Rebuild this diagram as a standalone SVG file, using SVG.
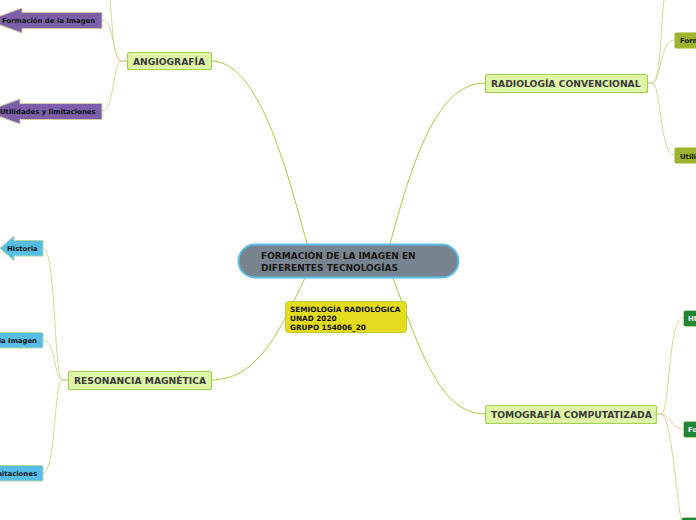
<svg xmlns="http://www.w3.org/2000/svg" width="696" height="520" viewBox="0 0 696 520">
<style>
text{font-family:"DejaVu Sans",Verdana,sans-serif;font-weight:bold}
.main rect{fill:#dff5a8;stroke:#a3cf55;stroke-width:1.2}
.main text{font-size:9.2px;fill:#3a3a3a}
.mc{fill:none;stroke:#a9c94e;stroke-width:1}
.sc{fill:none;stroke:#d8d79c;stroke-width:1}
.pur{fill:#7b5fa8;stroke:#cfcaa0;stroke-width:1}
.blu{fill:#56bde6;stroke:#b2d6a8;stroke-width:1}
.oli{fill:#9db42f;stroke:#cdd690;stroke-width:1}
.dg{fill:#1f8636;stroke:#b8d39a;stroke-width:1}
.sub{font-size:6.9px;fill:#111}
.wt{font-size:6.9px;fill:#fff}
</style>
<g id="connectors">
<path class="mc" d="M211 61 C255 61 282 150 307 244"/>
<path class="mc" d="M390 244 C415 150 440 83 485 83"/>
<path class="mc" d="M305 278 C280 330 258 380 211 380"/>
<path class="mc" d="M393 278 C420 350 440 414 485 414"/>
<path class="sc" d="M127 61 L122 61 C113 61 113 30 110 0"/>
<path class="sc" d="M127 61 L122 61 C112 61 115 20 102 20"/>
<path class="sc" d="M127 61 L122 61 C112 61 115 111 102 111"/>
<path class="sc" d="M68 380 L62 380 C54 380 56 248 43 248"/>
<path class="sc" d="M68 380 L62 380 C54 380 56 340 43 340"/>
<path class="sc" d="M68 380 L62 380 C54 380 56 473 43 473"/>
<path class="sc" d="M647 83 L652 83 C661 83 660 40 674 40"/>
<path class="sc" d="M647 83 L652 83 C661 83 661 20 664 0"/>
<path class="sc" d="M647 83 L652 83 C661 83 660 155 674 155"/>
<path class="sc" d="M656 414 L661 414 C670 414 668 318 683 318"/>
<path class="sc" d="M656 414 L661 414 C670 414 672 429 683 429"/>
<path class="sc" d="M656 414 L661 414 C670 414 675 480 681 520"/>
</g>
<g id="central">
<rect x="238.5" y="244.5" width="220" height="33" rx="16.5" fill="#788490" stroke="#5cbde6" stroke-width="2"/>
<text x="261" y="259" font-size="9px" fill="#161616">FORMACIÓN DE LA IMAGEN EN</text>
<text x="261" y="270.5" font-size="9px" fill="#161616">DIFERENTES TECNOLOGÍAS</text>
</g>
<g id="note">
<rect x="285.5" y="301.5" width="121" height="31" rx="3" fill="#e6dc1e" stroke="#bccb3c"/>
<text x="290" y="311.5" font-size="7.3px" fill="#111">SEMIOLOGÍA RADIOLÓGICA</text>
<text x="290" y="320.5" font-size="7.3px" fill="#111">UNAD 2020</text>
<text x="290" y="329.5" font-size="7.3px" fill="#111">GRUPO 154006_20</text>
</g>
<g id="angiografia" class="main">
<rect x="127.5" y="52.5" width="84" height="17" rx="2"/>
<text x="133" y="64.5">ANGIOGRAFÍA</text>
</g>
<g id="radiologia" class="main">
<rect x="485.5" y="74.5" width="162" height="18" rx="2"/>
<text x="491" y="87">RADIOLOGÍA CONVENCIONAL</text>
</g>
<g id="resonancia" class="main">
<rect x="68.5" y="371.5" width="143" height="18" rx="2"/>
<text x="74" y="384">RESONANCIA MAGNÉTICA</text>
</g>
<g id="tomografia" class="main">
<rect x="485.5" y="405.5" width="171" height="18" rx="2"/>
<text x="491" y="418">TOMOGRAFÍA COMPUTATIZADA</text>
</g>
<g id="ang-formacion">
<polygon class="pur" points="102,12.5 102,28.5 22,28.5 22,33 -12,20.5 22,8 22,12.5"/>
<text class="sub" x="2" y="23">Formación de la Imagen</text>
</g>
<g id="ang-utilidades">
<polygon class="pur" points="102,103.5 102,119.5 20,119.5 20,124 -14,111.5 20,99 20,103.5"/>
<text class="sub" x="0" y="114">Utilidades y limitaciones</text>
</g>
<g id="rm-historia">
<polygon class="blu" points="43,240.5 43,256 14,256 14,260.5 0,248.2 14,236 14,240.5"/>
<text class="sub" x="7" y="251">Historia</text>
</g>
<g id="rm-formacion">
<rect class="blu" x="-10" y="332.5" width="53" height="15.5" rx="1.5"/>
<text class="sub" x="37" y="343" text-anchor="end">Formación de la Imagen</text>
</g>
<g id="rm-utilidades">
<rect class="blu" x="-10" y="465.5" width="53" height="15.5" rx="1.5"/>
<text class="sub" x="37" y="476" text-anchor="end">Utilidades y limitaciones</text>
</g>
<g id="rc-formacion">
<rect class="oli" x="674.5" y="32.5" width="40" height="16" rx="2"/>
<text class="sub" x="680" y="43">Formación de la Imagen</text>
</g>
<g id="rc-utilidades">
<rect class="oli" x="674.5" y="147.5" width="40" height="16" rx="2"/>
<text class="sub" x="680" y="158.5">Utilidades y limitaciones</text>
</g>
<g id="tc-historia">
<rect class="dg" x="683.5" y="310.5" width="30" height="16" rx="2"/>
<text class="wt" x="688" y="321">HISTORIA</text>
</g>
<g id="tc-formacion">
<rect class="dg" x="683.5" y="421.5" width="30" height="16" rx="2"/>
<text class="wt" x="688" y="432">Formación de la Imagen</text>
</g>
<g id="tc-utilidades">
<rect class="dg" x="681.5" y="517.5" width="30" height="16" rx="2"/>
</g>
</svg>
